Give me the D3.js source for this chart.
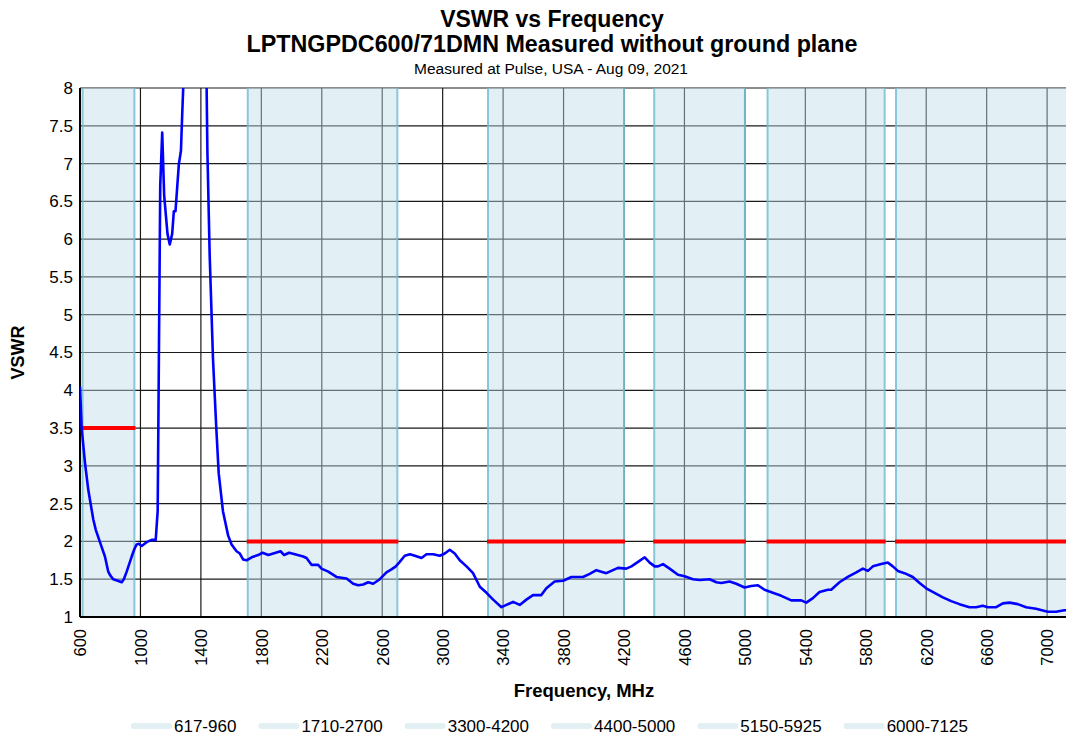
<!DOCTYPE html>
<html>
<head>
<meta charset="utf-8">
<script src="https://cdn.jsdelivr.net/npm/d3@7"></script>
<style>
  body { margin: 0; background: #fff; }
  svg { display: block; font-family: "Liberation Sans", Arial, sans-serif; }
</style>
</head>
<body>
<svg id="chart" width="1066" height="736"></svg>
<script>
// measured VSWR trace (MHz / VSWR)
const freq = [600, 611, 633, 655, 688, 705, 732, 765, 787, 800, 820, 850, 876, 890, 909, 942, 960, 975, 990, 1008,
  1041, 1074, 1101, 1114, 1122, 1131, 1144, 1157, 1179, 1194, 1210, 1221, 1232, 1254, 1268, 1276, 1283, 1300, 1340, 1380,
  1420, 1438, 1443, 1458, 1480, 1502, 1518, 1546, 1580, 1603, 1636, 1658, 1680, 1702, 1736, 1779, 1808, 1846, 1879, 1927,
  1951, 1984, 2022, 2077, 2099, 2132, 2176, 2198, 2243, 2297, 2364, 2408, 2441, 2474, 2507, 2540, 2584, 2628, 2661, 2690,
  2716, 2749, 2783, 2816, 2860, 2893, 2937, 2981, 3014, 3047, 3080, 3113, 3158, 3201, 3246, 3290, 3334, 3389, 3422, 3466,
  3510, 3554, 3598, 3653, 3686, 3741, 3797, 3852, 3929, 3973, 4017, 4050, 4083, 4127, 4160, 4215, 4249, 4293, 4337, 4370,
  4403, 4425, 4458, 4502, 4557, 4601, 4656, 4701, 4767, 4811, 4844, 4899, 4943, 4998, 5042, 5086, 5130, 5185, 5241, 5307,
  5373, 5406, 5450, 5494, 5549, 5571, 5626, 5681, 5737, 5781, 5814, 5847, 5902, 5946, 5979, 6012, 6056, 6111, 6156, 6200,
  6255, 6310, 6365, 6420, 6486, 6530, 6574, 6608, 6663, 6707, 6751, 6806, 6861, 6927, 7004, 7059, 7114, 7125];
const vswr = [4.05, 3.50, 3.04, 2.68, 2.29, 2.15, 1.99, 1.80, 1.60, 1.55, 1.50, 1.48, 1.46, 1.50, 1.60, 1.80, 1.90, 1.96, 1.97, 1.94,
  1.99, 2.02, 2.02, 2.40, 4.42, 6.71, 7.41, 6.58, 6.07, 5.93, 6.07, 6.37, 6.37, 6.99, 7.17, 7.63, 8.00, 9.60, 12.0, 12.5,
  10.5, 8.00, 7.17, 5.80, 4.42, 3.50, 2.90, 2.40, 2.08, 1.96, 1.87, 1.84, 1.76, 1.75, 1.79, 1.82, 1.85, 1.82, 1.84, 1.87,
  1.82, 1.85, 1.83, 1.80, 1.78, 1.69, 1.69, 1.64, 1.60, 1.53, 1.51, 1.44, 1.42, 1.43, 1.46, 1.44, 1.50, 1.59, 1.63, 1.67,
  1.73, 1.81, 1.83, 1.81, 1.78, 1.83, 1.83, 1.81, 1.84, 1.89, 1.84, 1.75, 1.67, 1.58, 1.40, 1.32, 1.23, 1.13, 1.16, 1.20,
  1.16, 1.23, 1.29, 1.29, 1.38, 1.47, 1.48, 1.53, 1.53, 1.57, 1.62, 1.60, 1.58, 1.62, 1.65, 1.64, 1.67, 1.73, 1.79, 1.72,
  1.67, 1.67, 1.70, 1.64, 1.56, 1.54, 1.50, 1.49, 1.50, 1.46, 1.45, 1.47, 1.44, 1.39, 1.41, 1.42, 1.36, 1.32, 1.28, 1.22,
  1.22, 1.19, 1.25, 1.33, 1.36, 1.36, 1.46, 1.53, 1.59, 1.64, 1.61, 1.67, 1.70, 1.72, 1.67, 1.61, 1.58, 1.53, 1.45, 1.38,
  1.32, 1.26, 1.21, 1.17, 1.13, 1.13, 1.15, 1.13, 1.13, 1.18, 1.19, 1.17, 1.13, 1.11, 1.07, 1.07, 1.09, 1.09];

// frequency bands with their VSWR limits
const bandNames = ["617-960", "1710-2700", "3300-4200", "4400-5000", "5150-5925", "6000-7125"];
const bandStart = [617, 1710, 3300, 4400, 5150, 6000];
const bandEnd = [960, 2700, 4200, 5000, 5925, 7125];
const bandLimit = [3.5, 2, 2, 2, 2, 2];

const xTicks = d3.range(600, 7001, 400);
const yTicks = [1, 1.5, 2, 2.5, 3, 3.5, 4, 4.5, 5, 5.5, 6, 6.5, 7, 7.5, 8];

const margin = { top: 88, right: 0, bottom: 119, left: 80 };
const W = 1066, H = 736;
const width = W - margin.left - margin.right;
const height = H - margin.top - margin.bottom;

const svg = d3.select("#chart");

const x = d3.scaleLinear().domain([600, 7125]).range([0, width]);
const y = d3.scaleLinear().domain([1, 8]).range([height, 0]);

const g = svg.append("g")
  .attr("transform", "translate(" + margin.left + "," + margin.top + ")");

g.append("defs").append("clipPath").attr("id", "plotClip")
  .append("rect").attr("width", width).attr("height", height);

// gridlines
g.append("g")
  .selectAll("line")
  .data(yTicks)
  .join("line")
  .attr("x1", 0).attr("x2", width)
  .attr("y1", d => y(d)).attr("y2", d => y(d))
  .attr("stroke", "#1a1a1a").attr("stroke-width", 1.2);

g.append("g")
  .selectAll("line")
  .data(xTicks)
  .join("line")
  .attr("x1", d => x(d)).attr("x2", d => x(d))
  .attr("y1", 0).attr("y2", height)
  .attr("stroke", "#1a1a1a").attr("stroke-width", 1.2);

// bands (semi transparent so the grid shows through greyed)
const bands = g.append("g");
bands.selectAll("rect")
  .data(bandNames)
  .join("rect")
  .attr("x", (d, i) => x(bandStart[i]))
  .attr("width", (d, i) => x(bandEnd[i]) - x(bandStart[i]))
  .attr("y", 0).attr("height", height)
  .attr("fill", "rgb(190,221,233)").attr("fill-opacity", 0.45);

const edges = [];
bandStart.forEach((s, i) => { edges.push(s); if (bandEnd[i] < 7125) edges.push(bandEnd[i]); });
bands.selectAll("line")
  .data(edges)
  .join("line")
  .attr("x1", d => x(d)).attr("x2", d => x(d))
  .attr("y1", 0).attr("y2", height)
  .attr("stroke", "rgb(115,189,209)").attr("stroke-opacity", 0.83).attr("stroke-width", 2);

// limit lines
g.append("g")
  .selectAll("line")
  .data(bandLimit)
  .join("line")
  .attr("x1", (d, i) => x(bandStart[i]) - 1)
  .attr("x2", (d, i) => x(bandEnd[i]) + 1)
  .attr("y1", d => y(d)).attr("y2", d => y(d))
  .attr("stroke", "#ff0000").attr("stroke-width", 4);

// axes lines
g.append("line").attr("x1", 0).attr("x2", width).attr("y1", height).attr("y2", height)
  .attr("stroke", "#000").attr("stroke-width", 2);
g.append("line").attr("x1", 0).attr("x2", 0).attr("y1", 0).attr("y2", height)
  .attr("stroke", "#000").attr("stroke-width", 2);

// VSWR trace
const pts = freq.map((f, i) => [f, vswr[i]]);
g.append("path")
  .datum(pts)
  .attr("clip-path", "url(#plotClip)")
  .attr("fill", "none")
  .attr("stroke", "#0000ff")
  .attr("stroke-width", 2.6)
  .attr("stroke-linejoin", "round")
  .attr("d", d3.line().x(d => x(d[0])).y(d => y(d[1])));

// y axis
const yAxis = g.append("g").call(d3.axisLeft(y).tickValues(yTicks).tickSize(0).tickPadding(7).tickFormat(d => String(d)));
yAxis.select(".domain").remove();
yAxis.selectAll("text").attr("font-size", "17px").attr("fill", "#000")
  .attr("font-family", "Liberation Sans, Arial, sans-serif");

// x axis
const xAxis = g.append("g")
  .attr("transform", "translate(0," + height + ")")
  .call(d3.axisBottom(x).tickValues(xTicks).tickSize(0).tickFormat(d3.format("d")));
xAxis.select(".domain").remove();
xAxis.selectAll("text")
  .attr("font-size", "16.5px").attr("fill", "#000")
  .attr("font-family", "Liberation Sans, Arial, sans-serif")
  .attr("transform", "rotate(-90)")
  .attr("text-anchor", "end")
  .attr("x", -12).attr("y", 0).attr("dy", "0.35em");

// titles
svg.append("text").attr("x", 552).attr("y", 27).attr("text-anchor", "middle")
  .attr("font-size", "23px").attr("font-weight", "bold").text("VSWR vs Frequency");
svg.append("text").attr("x", 552).attr("y", 52).attr("text-anchor", "middle")
  .attr("font-size", "23.3px").attr("font-weight", "bold")
  .text("LPTNGPDC600/71DMN Measured without ground plane");
svg.append("text").attr("x", 551).attr("y", 74).attr("text-anchor", "middle")
  .attr("font-size", "15.5px").text("Measured at Pulse, USA - Aug 09, 2021");

svg.append("text")
  .attr("transform", "translate(24," + (margin.top + height / 2) + ") rotate(-90)")
  .attr("text-anchor", "middle").attr("font-size", "18px").attr("font-weight", "bold")
  .text("VSWR");

svg.append("text").attr("x", 584).attr("y", 697).attr("text-anchor", "middle")
  .attr("font-size", "18.5px").attr("font-weight", "bold").text("Frequency, MHz");

// legend
const legend = svg.append("g").attr("transform", "translate(0,726)");
let lx = 131;
bandNames.forEach(name => {
  legend.append("line")
    .attr("x1", lx + 3).attr("x2", lx + 38).attr("y1", 0).attr("y2", 0)
    .attr("stroke", "#e2eff3").attr("stroke-width", 6).attr("stroke-linecap", "round");
  const t = legend.append("text").attr("x", lx + 43).attr("y", 0).attr("dy", "0.35em")
    .attr("font-size", "17px").text(name);
  lx += 43 + t.node().getComputedTextLength() + 22;
});
</script>
</body>
</html>
